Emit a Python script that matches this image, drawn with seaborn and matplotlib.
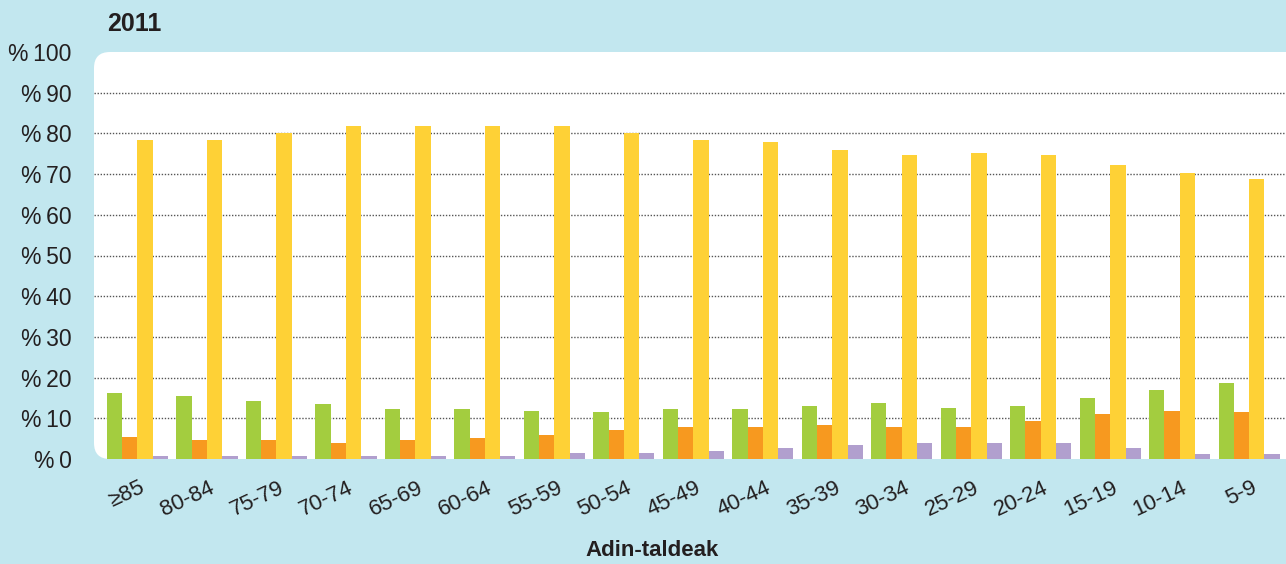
import matplotlib
matplotlib.use("Agg")
import matplotlib.pyplot as plt
from matplotlib.patches import FancyBboxPatch
from matplotlib.transforms import IdentityTransform, ScaledTranslation
import seaborn as sns
import pandas as pd

# Age groups (oldest to youngest)
adin_taldeak = ["≥85", "80-84", "75-79", "70-74", "65-69", "60-64", "55-59", "50-54",
                "45-49", "40-44", "35-39", "30-34", "25-29", "20-24", "15-19", "10-14", "5-9"]

# Share of each language group per age group (%)
euskaldunak = [16.2, 15.5, 14.2, 13.5, 12.3, 12.3, 11.8, 11.5, 12.3, 12.3, 13.0, 13.8, 12.5, 13.0, 15.0, 17.0, 18.6]
ia_euskaldunak = [5.4, 4.7, 4.7, 4.0, 4.7, 5.2, 5.9, 7.1, 7.9, 7.9, 8.4, 7.9, 7.9, 9.3, 11.0, 11.8, 11.5]
erdaldunak = [78.4, 78.4, 80.1, 81.8, 81.8, 81.8, 81.8, 80.0, 78.4, 77.9, 75.9, 74.7, 75.2, 74.7, 72.2, 70.2, 68.8]
ez_dakite = [0.7, 0.7, 0.7, 0.7, 0.7, 0.7, 1.5, 1.5, 2.0, 2.7, 3.4, 3.9, 3.9, 3.9, 2.7, 1.2, 1.2]

taldeak = ["Euskaldunak", "Ia euskaldunak", "Erdaldunak", "Ez dakite"]
koloreak = ["#a3cd3f", "#f7991f", "#fed136", "#b19fce"]

rows = []
for taldea, balioak in zip(taldeak, [euskaldunak, ia_euskaldunak, erdaldunak, ez_dakite]):
    for adina, v in zip(adin_taldeak, balioak):
        rows.append({"adina": adina, "taldea": taldea, "ehunekoa": v})
df = pd.DataFrame(rows)

sns.set_theme(style="white")
plt.rcParams["font.family"] = ["Liberation Sans", "DejaVu Sans"]

BG = "#c2e7ef"
TXT = "#231f20"
fig = plt.figure(figsize=(12.86, 5.64), dpi=100, facecolor=BG)
ax = fig.add_axes([94 / 1286, 1 - 459 / 564, 1 - 94 / 1286, (459 - 52) / 564])
ax.patch.set_visible(False)

# White panel with rounded left corners behind the plot
panel = FancyBboxPatch((94 + 16, 564 - 459 + 16), 1300 - 94, 459 - 52 - 32,
                       boxstyle="round,pad=16,rounding_size=16",
                       transform=IdentityTransform(), facecolor="white",
                       edgecolor="none", zorder=-5)
fig.patches.append(panel)

sns.barplot(data=df, x="adina", y="ehunekoa", hue="taldea", hue_order=taldeak,
            palette=koloreak, width=0.88, saturation=1, legend=False, ax=ax,
            errorbar=None, linewidth=0, zorder=3)

ax.set_ylim(0, 100)
ax.set_xlim(-0.626, 16.53)
ax.set_yticks(range(0, 101, 10))
ax.set_yticklabels([f"%\u2009{v}" for v in range(0, 101, 10)], fontsize=16.5, color=TXT)
for y in range(10, 100, 10):
    ax.axhline(y, color="#555555", lw=1.0, ls=(0, (1, 1.2)), zorder=1)

ax.tick_params(axis="y", length=0, pad=16)
ax.tick_params(axis="x", length=0, pad=13)
ax.set_xticks(range(len(adin_taldeak)))
ax.set_xticklabels(adin_taldeak, rotation=25, ha="right", rotation_mode="anchor",
                   fontsize=16, color=TXT)
shift = ScaledTranslation(2 / 100, 0, fig.dpi_scale_trans)
for lab in ax.get_xticklabels():
    lab.set_transform(lab.get_transform() + shift)
for s in ax.spines.values():
    s.set_visible(False)

ax.set_ylabel("")
ax.set_xlabel("")
fig.text(652 / 1286, 1 - 551 / 564, "Adin-taldeak", fontsize=16, fontweight="bold",
         color=TXT, ha="center", va="center")
fig.text(107 / 1286, 1 - 24 / 564, "2011", fontsize=18, fontweight="bold",
         color=TXT, ha="left", va="center")

fig.savefig("out.png", dpi=100, facecolor=BG)
